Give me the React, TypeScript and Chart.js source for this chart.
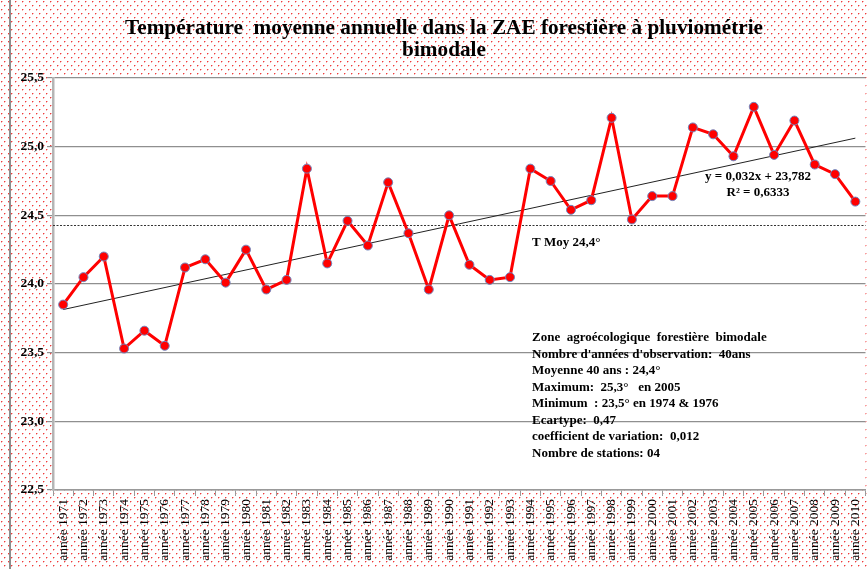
import React, { useEffect, useRef } from "react";
import { Chart, registerables } from "chart.js";

Chart.register(...registerables);

const yearLabels = [
  "année 1971", "année 1972", "année 1973", "année 1974", "année 1975",
  "année 1976", "année 1977", "année 1978", "année 1979", "année 1980",
  "année 1981", "année 1982", "année 1983", "année 1984", "année 1985",
  "année 1986", "année 1987", "année 1988", "année 1989", "année 1990",
  "année 1991", "année 1992", "année 1993", "année 1994", "année 1995",
  "année 1996", "année 1997", "année 1998", "année 1999", "année 2000",
  "année 2001", "année 2002", "année 2003", "année 2004", "année 2005",
  "année 2006", "année 2007", "année 2008", "année 2009", "année 2010",
];

const temperatures = [
  23.85, 24.05, 24.2, 23.53, 23.66, 23.55, 24.12, 24.18, 24.01, 24.25,
  23.96, 24.03, 24.84, 24.15, 24.46, 24.28, 24.74, 24.37, 23.96, 24.5,
  24.14, 24.03, 24.05, 24.84, 24.75, 24.54, 24.61, 25.21, 24.47, 24.64,
  24.64, 25.14, 25.09, 24.93, 25.29, 24.94, 25.19, 24.87, 24.8, 24.6,
];

const trendSlope = 0.032;
const trendIntercept = 23.782;
const meanTemp = 24.43;

const titleLines = [
  "Température  moyenne annuelle dans la ZAE forestière à pluviométrie",
  "bimodale",
];

const statsLines = [
  "Zone  agroécologique  forestière  bimodale",
  "Nombre d'années d'observation:  40ans",
  "Moyenne 40 ans : 24,4°",
  "Maximum:  25,3°   en 2005",
  "Minimum  : 23,5° en 1974 & 1976",
  "Ecartype:  0,47",
  "coefficient de variation:  0,012",
  "Nombre de stations: 04",
];

const equationLines = ["y = 0,032x + 23,782", "R² = 0,6333"];
const meanLabel = "T Moy 24,4°";

const yMin = 22.5;
const yMax = 25.5;
const yStep = 0.5;

const W = 867;
const H = 569;
const CW = 871;

function makePattern(ctx: CanvasRenderingContext2D) {
  const tile = document.createElement("canvas");
  tile.width = 7;
  tile.height = 8;
  const t = tile.getContext("2d")!;
  t.fillStyle = "#ffffff";
  t.fillRect(0, 0, 7, 8);
  t.fillStyle = "#f9b4b4";
  t.fillRect(2, 1, 1, 1);
  t.fillRect(5, 5, 1, 1);
  t.fillRect(1, 2, 1, 1);
  t.fillRect(4, 6, 1, 1);
  t.fillStyle = "#f03a3a";
  t.fillRect(1, 1, 1, 1);
  t.fillRect(4, 5, 1, 1);
  return ctx.createPattern(tile, "repeat");
}

const decorPlugin = {
  id: "decor",
  beforeDraw(chart: any) {
    const { ctx, chartArea } = chart;
    ctx.save();
    const pat = makePattern(ctx);
    ctx.fillStyle = pat || "#fff";
    ctx.fillRect(0, 0, chart.width, chart.height);
    ctx.fillStyle = "#ffffff";
    ctx.fillRect(chartArea.left, chartArea.top, chartArea.right - chartArea.left, chartArea.bottom - chartArea.top);
    ctx.strokeStyle = "#8c8c8c";
    ctx.lineWidth = 2;
    ctx.beginPath();
    ctx.moveTo(10, 0);
    ctx.lineTo(10, chart.height);
    ctx.stroke();
    ctx.restore();
  },
  beforeDatasetsDraw(chart: any) {
    const { ctx, chartArea, scales } = chart;
    const y = Math.round(scales.y.getPixelForValue(meanTemp)) + 0.5;
    ctx.save();
    ctx.strokeStyle = "#333";
    ctx.lineWidth = 1;
    ctx.setLineDash([2, 1.5]);
    ctx.beginPath();
    ctx.moveTo(chartArea.left, y);
    ctx.lineTo(chartArea.right, y);
    ctx.stroke();
    ctx.restore();
  },
  afterDraw(chart: any) {
    const { ctx, scales } = chart;
    ctx.save();
    ctx.fillStyle = "#000";
    ctx.textBaseline = "alphabetic";
    ctx.font = 'bold 22px "Liberation Serif"';
    const w0 = ctx.measureText(titleLines[0]).width;
    const sx = 638 / w0;
    titleLines.forEach((line, i) => {
      ctx.save();
      ctx.translate(444, i === 0 ? 34 : 56);
      ctx.scale(sx, 1);
      ctx.textAlign = "center";
      ctx.fillText(line, 0, 0);
      ctx.restore();
    });
    ctx.font = 'bold 13px "Liberation Serif"';
    ctx.textAlign = "left";
    ctx.textBaseline = "middle";
    statsLines.forEach((line, i) => {
      ctx.fillText(line, 532, 338 + i * 16.5);
    });
    ctx.textAlign = "center";
    ctx.fillText(equationLines[0], 758, 177);
    ctx.fillText(equationLines[1], 758, 193);
    ctx.textAlign = "left";
    const my = scales.y.getPixelForValue(meanTemp);
    ctx.fillText(meanLabel, 532, my + 18);
    ctx.restore();
  },
};

export default function App() {
  const ref = useRef<HTMLCanvasElement>(null);
  useEffect(() => {
    const n = yearLabels.length;
    const trendData = yearLabels.map((_, i) =>
      i === 0 || i === n - 1 ? trendIntercept + trendSlope * (i + 1) : null
    );
    const chart = new Chart(ref.current!, {
      type: "line",
      data: {
        labels: yearLabels,
        datasets: [
          {
            label: "Température",
            data: temperatures,
            borderColor: "#ff0000",
            backgroundColor: "#ff0000",
            borderWidth: 3,
            pointRadius: 4.5,
            pointBackgroundColor: "#ff0000",
            pointBorderColor: "#6f86bf",
            pointBorderWidth: 1,
            tension: 0,
            order: 1,
          },
          {
            label: "Tendance",
            data: trendData,
            borderColor: "#222",
            borderWidth: 1,
            pointRadius: 0,
            spanGaps: true,
            order: 2,
          },
        ],
      },
      options: {
        animation: false,
        responsive: false,
        maintainAspectRatio: false,
        layout: { padding: { left: 10, right: 2, top: 78, bottom: 0 } },
        plugins: {
          legend: { display: false },
          title: { display: false },
          tooltip: { enabled: false },
        },
        scales: {
          x: {
            type: "category",
            offset: true,
            grid: {
              display: true,
              drawOnChartArea: false,
              drawTicks: true,
              tickLength: 6,
              color: "#999",
              offset: true,
            },
            border: { display: true, color: "#999", width: 1.5 },
            ticks: {
              autoSkip: false,
              minRotation: 90,
              maxRotation: 90,
              padding: 3,
              color: "#000",
              font: { family: '"Liberation Serif"', size: 13.5 },
            },
            afterFit: (axis: any) => {
              axis.height = H - 490;
              axis.paddingLeft = 0;
              axis.paddingRight = 0;
            },
          },
          y: {
            min: yMin,
            max: yMax,
            grid: {
              color: "#8f8f8f",
              lineWidth: 1.2,
              drawTicks: true,
              tickLength: 6,
            },
            border: { display: true, color: "#b5b5b5", width: 2.5 },
            ticks: {
              stepSize: yStep,
              padding: 3,
              color: "#000",
              font: { family: '"Liberation Serif"', size: 13.5, weight: "bold" },
              callback: (v: any) => Number(v).toFixed(1).replace(".", ","),
            },
            afterFit: (axis: any) => {
              axis.width = 43;
              axis.paddingTop = 0;
              axis.paddingBottom = 0;
            },
          },
        },
      },
      plugins: [decorPlugin],
    });
    return () => chart.destroy();
  }, []);
  return (
    <div style={{ position: "fixed", left: 0, top: 0, width: W, height: H, overflow: "hidden", background: "#fff" }}>
      <canvas ref={ref} width={CW} height={H} style={{ display: "block", width: CW, height: H }} />
    </div>
  );
}
